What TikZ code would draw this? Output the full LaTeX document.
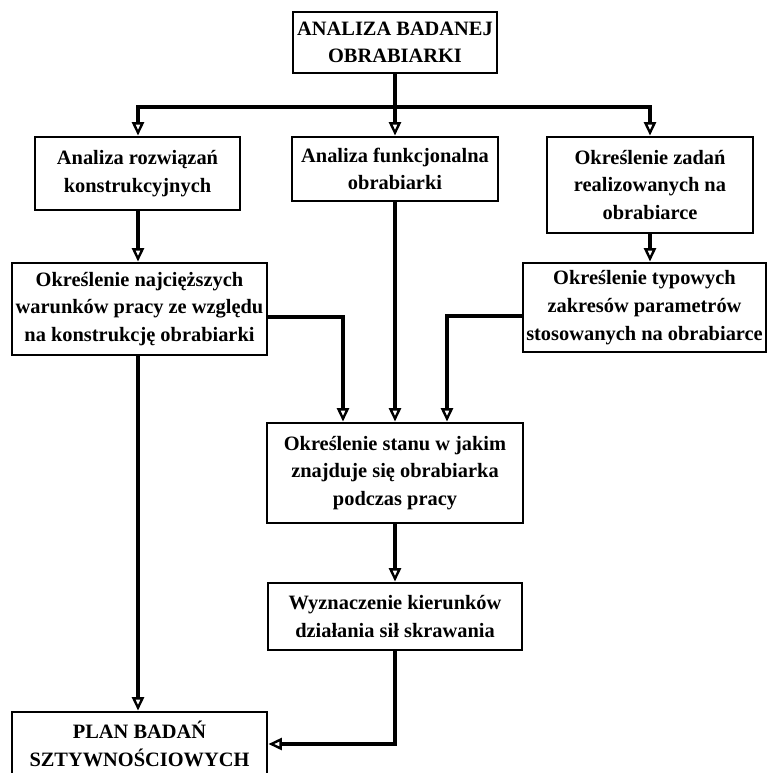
\documentclass[tikz,border=0pt]{standalone}
\usepackage{fontspec}
\setmainfont{Liberation Serif}
\usetikzlibrary{positioning, arrows.meta}

\begin{document}
\begin{tikzpicture}[
        x=0.75pt, y=-0.75pt,
        box/.style={draw, line width=2.2pt, inner sep=0pt, align=center, font=\bfseries\fontsize{15.3pt}{20.8pt}\selectfont},
        arrow/.style={line width=3pt, -{Triangle[open, length=10pt, width=9pt, line width=1.8pt]}}
      ]
    \useasboundingbox (0,0) rectangle (766,773);

    \node (top) [box, minimum width=153pt, minimum height=45.75pt] at (395,42.5) {ANALIZA BADANEJ\\OBRABIARKI};
    \node (rozw) [box, minimum width=153.75pt, minimum height=54.75pt] at (137.5,173.5) {Analiza rozwiązań\\konstrukcyjnych};
    \node (func) [box, minimum width=154.5pt, minimum height=48pt] at (395,169) {Analiza funkcjonalna\\obrabiarki};
    \node (zad) [box, minimum width=154.5pt, minimum height=72pt] at (650,185) {Określenie zadań\\realizowanych na\\obrabiarce};
    \node (naj) [box, minimum width=191.25pt, minimum height=69pt] at (139.5,309) {Określenie najcięższych\\warunków pracy ze względu\\na konstrukcję obrabiarki};
    \node (typ) [box, minimum width=182.25pt, minimum height=66.75pt] at (644.5,307.5) {Określenie typowych\\zakresów parametrów\\stosowanych na obrabiarce};
    \node (stan) [box, minimum width=192pt, minimum height=75pt] at (395,473) {Określenie stanu w jakim\\znajduje się obrabiarka\\podczas pracy};
    \node (kier) [box, minimum width=190.5pt, minimum height=50.25pt] at (395,616.5) {Wyznaczenie kierunków\\działania sił skrawania};
    \node (plan) [box, minimum width=191.25pt, minimum height=48pt] at (139.5,744) {PLAN BADAŃ\\SZTYWNOŚCIOWYCH};

    % rozgalezienie
    \coordinate (bus) at (395,107);
    \draw[arrow] (top) -- (func);
    \draw[arrow] (bus) -| (rozw.north -| 138,0);
    \draw[arrow] (bus) -| (zad.north);

    \draw[arrow] (rozw.south -| 138,0) -- (naj.north -| 138,0);
    \draw[arrow] (zad) -- (zad.south |- typ.north);
    \draw[arrow] ([yshift=-6pt]naj.east) -| ([xshift=-39pt]stan.north);
    \draw[arrow] (func) -- (stan);
    \draw[arrow] ([yshift=-6pt]typ.west) -| ([xshift=39pt]stan.north);
    \draw[arrow] (stan) -- (kier);
    \draw[arrow] (naj.south -| 138,0) -- (plan.north -| 138,0);
    \draw[arrow] (kier.south) |- (plan.east);

\end{tikzpicture}
\end{document}
